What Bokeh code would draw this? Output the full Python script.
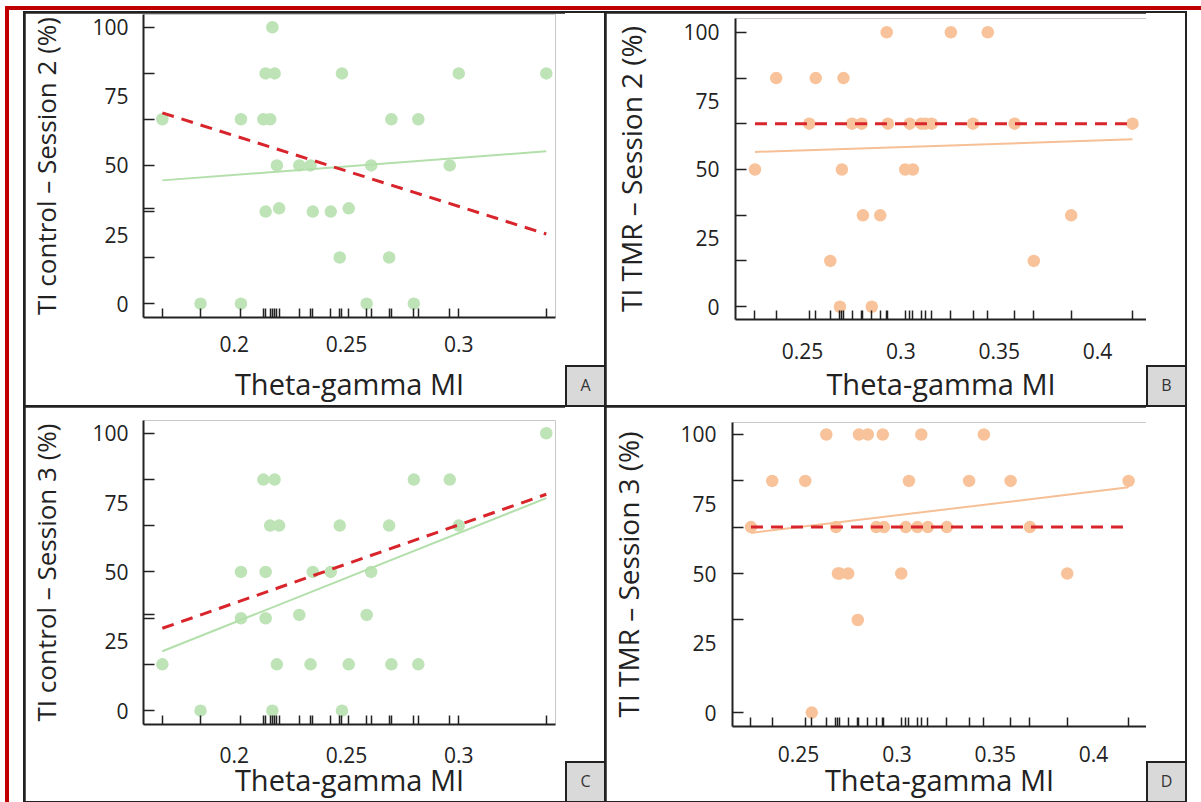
from bokeh.plotting import figure
from bokeh.models import FixedTicker, Range1d, Div
from bokeh.layouts import row, column
from bokeh.embed import file_html
from bokeh.resources import INLINE

# ---------------- data ----------------
# Theta-gamma MI per participant, TI control group
ctrl_mi = [0.168, 0.185, 0.203, 0.203, 0.213, 0.214, 0.214, 0.216, 0.217, 0.218,
           0.219, 0.220, 0.229, 0.234, 0.235, 0.243, 0.247, 0.248, 0.251, 0.259,
           0.261, 0.269, 0.270, 0.280, 0.282, 0.296, 0.300, 0.339]
ctrl_s2 = [66.7, 0, 0, 66.7, 66.7, 33.3, 83.3, 66.7, 100, 83.3,
           50, 34.5, 50, 50, 33.3, 33.3, 16.7, 83.3, 34.5, 0,
           50, 16.7, 66.7, 0, 66.7, 50, 83.3, 83.3]
ctrl_s3 = [16.7, 0, 50, 33.3, 83.3, 33.3, 50, 66.7, 0, 83.3,
           16.7, 66.7, 34.5, 16.7, 50, 50, 66.7, 0, 16.7, 34.5,
           50, 66.7, 16.7, 83.3, 16.7, 83.3, 66.7, 100]

# Theta-gamma MI per participant, TI TMR group
tmr_mi = [0.2258, 0.2366, 0.2534, 0.2567, 0.2641, 0.2690, 0.2700, 0.2708, 0.2752, 0.2801,
          0.2807, 0.2852, 0.2895, 0.2928, 0.2934, 0.3022, 0.3045, 0.3061, 0.3104, 0.3124,
          0.3157, 0.3254, 0.3367, 0.3442, 0.3578, 0.3676, 0.3866, 0.4178]
tmr_s2 = [50, 83.3, 66.7, 83.3, 16.7, 0, 50, 83.3, 66.7, 66.7,
          33.3, 0, 33.3, 100, 66.7, 50, 66.7, 50, 66.7, 66.7,
          66.7, 100, 66.7, 100, 66.7, 16.7, 33.3, 66.7]
tmr_s3 = [66.7, 83.3, 83.3, 0, 100, 66.7, 50, 50, 50, 33.3,
          100, 100, 66.7, 100, 66.7, 50, 66.7, 83.3, 66.7, 100,
          66.7, 66.7, 83.3, 100, 83.3, 66.7, 50, 83.3]

# fitted lines (end points)
ctrl_fit_x = [0.168, 0.339]
ctrl_s2_fit = [44.6, 55.1]
ctrl_s2_ref = [69.0, 25.2]
ctrl_s3_fit = [21.4, 76.6]
ctrl_s3_ref = [29.7, 78.0]

tmr_fit_x = [0.2258, 0.4178]
tmr_s2_fit = [56.4, 61.0]
tmr_s2_ref = [66.7, 66.7]
tmr_s3_fit = [64.6, 81.0]
tmr_s3_ref = [66.7, 66.7]

y_tick_labels = [0, 25, 50, 75, 100]
ctrl_x_ticks = [0.2, 0.25, 0.3]
tmr_x_ticks = [0.25, 0.3, 0.35, 0.4]

x_title = "Theta-gamma MI"
y_titles = ["TI control \u2013 Session 2 (%)", "TI TMR \u2013 Session 2 (%)",
            "TI control \u2013 Session 3 (%)", "TI TMR \u2013 Session 3 (%)"]
letters = ["A", "B", "C", "D"]

GREEN = "#bde3b6"
GREEN_LINE = "#b3dfab"
ORANGE = "#f8c39b"
ORANGE_LINE = "#f6bf95"
RED = "#d8242b"
INK = "#222222"
FONT = "Open Sans"


def panel(x, y, fit_x, fit_y, ref_y, pt_col, ln_col, ytitle, letter, xr, yr, xticks,
          h, left, right, top, bottom, xls, xas, yls, yas, yfs):
    p = figure(width=540, height=h, x_range=Range1d(*xr), y_range=Range1d(*yr),
               output_backend="svg", toolbar_location=None,
               min_border_left=left, min_border_right=right,
               min_border_top=top, min_border_bottom=bottom)
    p.outline_line_color = None
    p.grid.visible = False
    p.background_fill_color = "white"
    p.border_fill_color = "white"

    xa = p.xaxis[0]
    xa.ticker = FixedTicker(ticks=xticks, minor_ticks=list(x))
    xa.major_label_overrides = {t: ("%g" % t) for t in xticks}
    ya = p.yaxis[0]
    ya.ticker = FixedTicker(ticks=y_tick_labels, minor_ticks=sorted(set(y)))
    for ax in (xa, ya):
        ax.axis_line_color = INK
        ax.axis_line_width = 2
        ax.major_tick_line_color = None
        ax.major_tick_in = 0
        ax.major_tick_out = 0
        ax.minor_tick_line_color = INK
        ax.minor_tick_line_width = 1.5
        ax.minor_tick_out = 0
        ax.major_label_text_font = FONT
        ax.major_label_text_font_size = "21px"
        ax.major_label_text_color = INK
        ax.axis_label_text_font = FONT
        ax.axis_label_text_font_style = "normal"
        ax.axis_label_text_color = INK
    xa.axis_label_text_font_size = "29px"
    ya.axis_label_text_font_size = yfs
    xa.minor_tick_in = 9
    ya.minor_tick_in = 11
    xa.axis_label = x_title
    ya.axis_label = ytitle
    xa.major_label_standoff = xls
    xa.axis_label_standoff = xas
    ya.major_label_standoff = yls
    ya.axis_label_standoff = yas

    p.scatter(x, y, size=12.5, fill_color=pt_col, line_color=None)
    p.line(fit_x, fit_y, line_color=ln_col, line_width=2)
    p.line(fit_x, ref_y, line_color=RED, line_width=3, line_dash="12 8")

    spacer = Div(text="", width=39, height=h - 40, margin=0,
                 styles={"background-color": "white"})
    box = Div(text=letter, width=39, height=40, margin=0,
              styles={"background-color": "#d9d9d9", "border-left": "2px solid #222222",
                      "border-top": "2px solid #222222", "box-sizing": "border-box",
                      "text-align": "center", "font-family": FONT, "font-size": "16px",
                      "color": "#333333", "padding-top": "7px", "line-height": "normal"})
    return row(p, column(spacer, box))


pA = panel(ctrl_mi, ctrl_s2, ctrl_fit_x, ctrl_s2_fit, ctrl_s2_ref, GREEN, GREEN_LINE,
           y_titles[0], letters[0], (0.1596, 0.3431), (-5.0, 104.6), ctrl_x_ticks,
           392, 117, 10, 1, 84, 18, 9, 15, 25, "26px")
pB = panel(tmr_mi, tmr_s2, tmr_fit_x, tmr_s2_fit, tmr_s2_ref, ORANGE, ORANGE_LINE,
           y_titles[1], letters[1], (0.2159, 0.4249), (-4.64, 105.0), tmr_x_ticks,
           392, 129, 0, 5, 80, 23, 2, 16, 30, "28px")
pC = panel(ctrl_mi, ctrl_s3, ctrl_fit_x, ctrl_s3_fit, ctrl_s3_ref, GREEN, GREEN_LINE,
           y_titles[2], letters[2], (0.1596, 0.3431), (-5.0, 104.6), ctrl_x_ticks,
           394, 117, 10, 13, 74, 22, -6, 15, 25, "26px")
pD = panel(tmr_mi, tmr_s3, tmr_fit_x, tmr_s3_fit, tmr_s3_ref, ORANGE, ORANGE_LINE,
           y_titles[3], letters[3], (0.2164, 0.4269), (-5.0, 104.3), tmr_x_ticks,
           394, 126, 0, 15, 73, 19, -5, 16, 30, "28px")

grid = column(row(pA, pB, spacing=2), row(pC, pD, spacing=2), spacing=2,
              styles={"background-color": INK, "padding": "2px"})
w2 = column(grid, styles={"background-color": "white", "padding": "1px 14px 0px 14px"})
w1 = column(w2, styles={"background-color": "#c00000", "padding": "4px 0px 0px 4px"})
root = column(w1, styles={"background-color": "white", "padding": "6px 0px 0px 5px"})

open("out.html", "w").write(file_html(root, INLINE))
